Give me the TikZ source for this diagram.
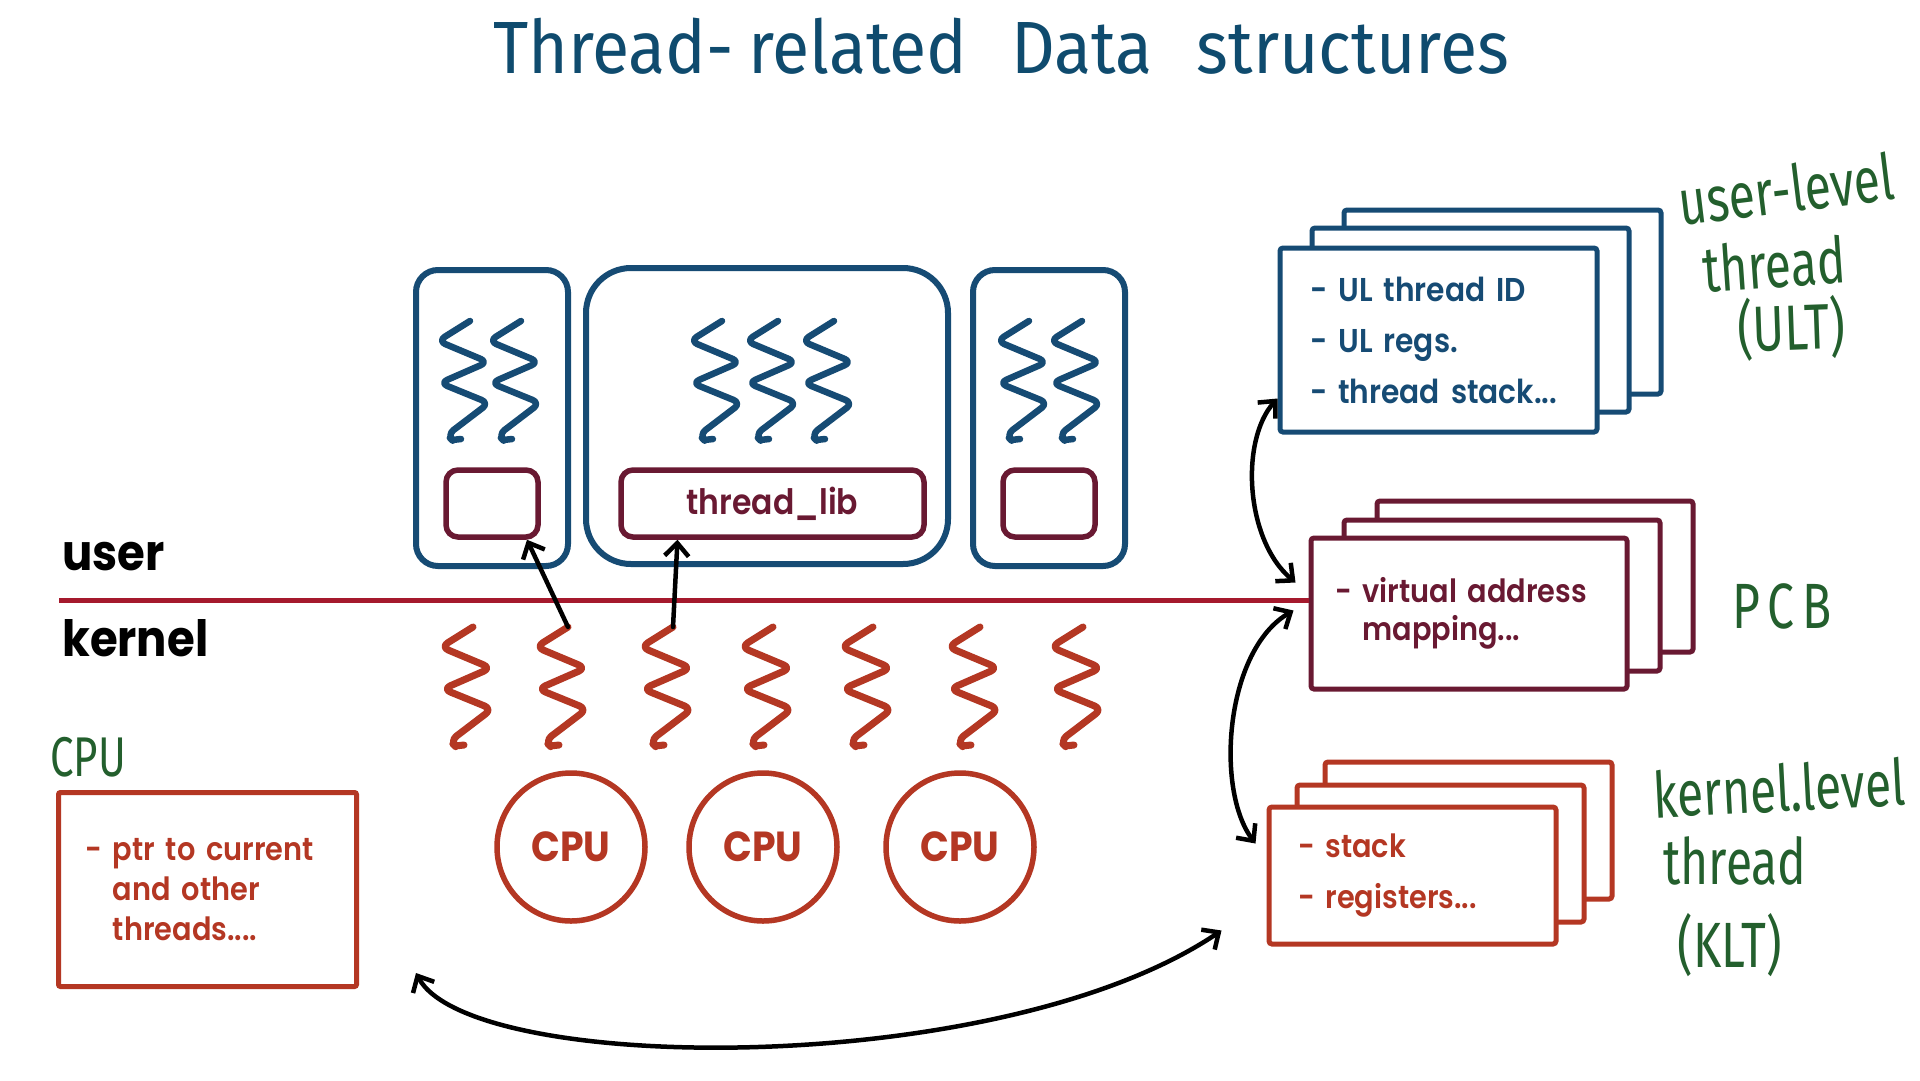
\documentclass[tikz,border=0pt]{standalone}
\usepackage{fontspec}
\setmainfont{Poppins}
\newfontfamily\gothic[FakeStretch=0.9]{Poppins SemiBold}
\newfontfamily\gothicb[FakeStretch=0.9]{Poppins}
\newfontfamily\hand[FakeStretch=0.75]{Fira Sans}
\newfontfamily\handt[FakeStretch=0.92]{Fira Sans}
\usetikzlibrary{arrows.meta,calc}

\definecolor{ublue}{HTML}{164B74}
\definecolor{tblue}{HTML}{0F4B6E}
\definecolor{maroon}{HTML}{691932}
\definecolor{rbrown}{HTML}{B43723}
\definecolor{sepred}{HTML}{A5192D}
\definecolor{hgreen}{HTML}{235F2D}

\tikzset{
  thr/.pic={
    \draw[rounded corners=8pt, line cap=round, line join=round]
      (6,0) -- (-26,20) -- (24,41) -- (-24,62) -- (25,82) -- (-17,114)
      [rounded corners=3pt] -- (-12,119) -- (-3,118);
    \coordinate (-top) at (6,0);
  },
  proc/.style={draw=ublue, line width=6pt, rounded corners=22pt, inner sep=0pt,
    minimum height=296pt},
  lib/.style={draw=maroon, line width=5.5pt, rounded corners=12pt, inner sep=0pt,
    minimum height=67pt, text=maroon, font=\gothic\fontsize{35}{40}\selectfont},
  card/.style={draw, fill=white, line width=5pt, rounded corners=3pt,
    inner ysep=0pt, align=left},
  cpu/.style={circle, draw=rbrown, line width=5.5pt, minimum size=148pt,
    inner sep=0pt, text=rbrown, font=\gothicb\bfseries\fontsize{42}{42}\selectfont},
  side/.style={font=\gothicb\bfseries\fontsize{50}{50}\selectfont, inner sep=0pt,
    anchor=west},
  note/.style={text=hgreen, inner sep=0pt, font=\hand\fontsize{64}{64}\selectfont},
  tip/.tip={Straight Barb[length=13pt, width=24pt]},
  arr/.style={line width=4.5pt, line cap=round, -tip},
  darr/.style={line width=4.5pt, line cap=round, tip-tip},
}

\begin{document}
\begin{tikzpicture}[x=1pt, y=-1pt]
\useasboundingbox (0,0) rectangle (1920,1080);
\fill[white] (0,0) rectangle (1920,1080);

% heading
\node[text=tblue, inner sep=0pt, font=\handt\fontsize{74}{74}\selectfont] (title) at (1001,46)
  {Thread-\hspace{14pt}related\hspace{44pt}Data\hspace{44pt}structures};

% processes with their user-level threads
\node[proc, minimum width=152pt] (p1) at (492,418) {};
\node[proc, rounded corners=45pt, minimum width=362pt] (p2) at (767,416) {};
\node[proc, minimum width=152pt] (p3) at (1049,418) {};

\node[lib, minimum width=92pt] (lib1) at (492,503.5) {};
\node[lib, minimum width=303pt] (lib2) at (772.5,503.5) {thread\_lib};
\node[lib, minimum width=92pt] (lib3) at (1049,503.5) {};

\foreach \n/\x in {u1/464, u2/515, u3/716, u4/772, u5/828, u6/1023, u7/1076}
  \pic[color=ublue, line width=6.5pt] (\n) at (\x,321) {thr};

% user / kernel boundary
\node[side] (user) at (62,557) {user};
\node[side] (kernel) at (62,638) {kernel};

% PCB stack
\node[card, draw=maroon, minimum width=316pt, minimum height=151pt] (pcbB) at (1535,576.5) {};
\node[card, draw=maroon, minimum width=316pt, minimum height=151pt] (pcbM) at (1502,595.5) {};
\node[card, draw=maroon, text=maroon, inner xsep=24pt, text width=268pt, minimum height=151pt,
  font=\gothic\fontsize{32}{38}\selectfont] (pcbF) at (1469,613.5)
  {- virtual address\\\hphantom{- }mapping...};

\coordinate (sepL) at (59,600);
\draw[sepred, line width=5pt] (sepL) -- (sepL -| pcbF.west);

% kernel-level threads
\foreach \n/\x in {k1/467, k2/562, k3/667, k4/767, k5/867, k6/974, k7/1077}
  \pic[color=rbrown, line width=7pt] (\n) at (\x,627) {thr};

\draw[arr] (k2-top) -- ($(lib1.south)+(35,0)$);
\draw[arr] (k3-top) -- ($(lib2.south)+(-95,0)$);

% CPUs
\node[cpu] (c1) at (571,847) {CPU};
\node[cpu] (c2) at (763,847) {CPU};
\node[cpu] (c3) at (960,847) {CPU};

% CPU data structure
\node[note, font=\hand\fontsize{56}{56}\selectfont] (cpulbl) at (88,757) {CPU};
\node[card, draw=rbrown, text=rbrown, rounded corners=2pt, inner xsep=27pt, text width=244pt,
  minimum height=194pt, font=\gothic\fontsize{32}{40}\selectfont] (cpubox) at (207.5,889.5)
  {- ptr to current\\\hphantom{- }and other\\\hphantom{- }threads....};

% ULT stack
\node[card, draw=ublue, minimum width=317pt, minimum height=184pt] (ultB) at (1502.5,302) {};
\node[card, draw=ublue, minimum width=317pt, minimum height=184pt] (ultM) at (1470.5,320) {};
\node[card, draw=ublue, text=ublue, inner xsep=30pt, text width=257pt, minimum height=184pt,
  font=\gothic\fontsize{33}{51}\selectfont] (ultF) at (1438.5,340)
  {- UL thread ID\\- UL regs.\\- thread stack...};

% KLT stack
\node[card, draw=rbrown, minimum width=287pt, minimum height=137pt] (kltB) at (1468.5,830.5) {};
\node[card, draw=rbrown, minimum width=287pt, minimum height=137pt] (kltM) at (1440.5,853.5) {};
\node[card, draw=rbrown, text=rbrown, inner xsep=29pt, text width=229pt, minimum height=137pt,
  font=\gothic\fontsize{32}{51}\selectfont] (kltF) at (1412.5,875.5)
  {- stack\\- registers...};

% green annotations
\node[note, rotate=7] (ult1) at (1786,189) {user-level};
\node[note, rotate=4] (ult2) at (1774,264) {thread};
\node[note, rotate=2] (ult3) at (1791,328) {(ULT)};
\node[note, font=\hand\fontsize{64}{64}\selectfont\addfontfeature{LetterSpace=12}] (pcbl) at (1782,606) {PCB};
\node[note, rotate=3] (klt1) at (1779,788) {kernel.level};
\node[note] (klt2) at (1735,861) {thread};
\node[note] (klt3) at (1730,945) {(KLT)};

% links between the structures
\coordinate (aTop) at ($(ultF.south west)+(0,-36)$);
\coordinate (aBot) at ($(pcbF.west)+(-13,-31)$);
\coordinate (bTop) at ($(pcbF.west)+(-15,-3)$);
\coordinate (bBot) at ($(kltF.west)+(-11,-32)$);
\coordinate (cL) at ($(cpubox.south east)+(57,-16)$);
\coordinate (cR) at ($(kltF.south west)+(-45,-16)$);

\draw[darr] (aTop) .. controls (1240,440) and (1245,540) .. (aBot);
\draw[darr] (bTop) .. controls (1225,650) and (1215,790) .. (bBot);
\draw[darr] (cL) .. controls (470,1075) and (1000,1080) .. (cR);
\end{tikzpicture}
\end{document}
